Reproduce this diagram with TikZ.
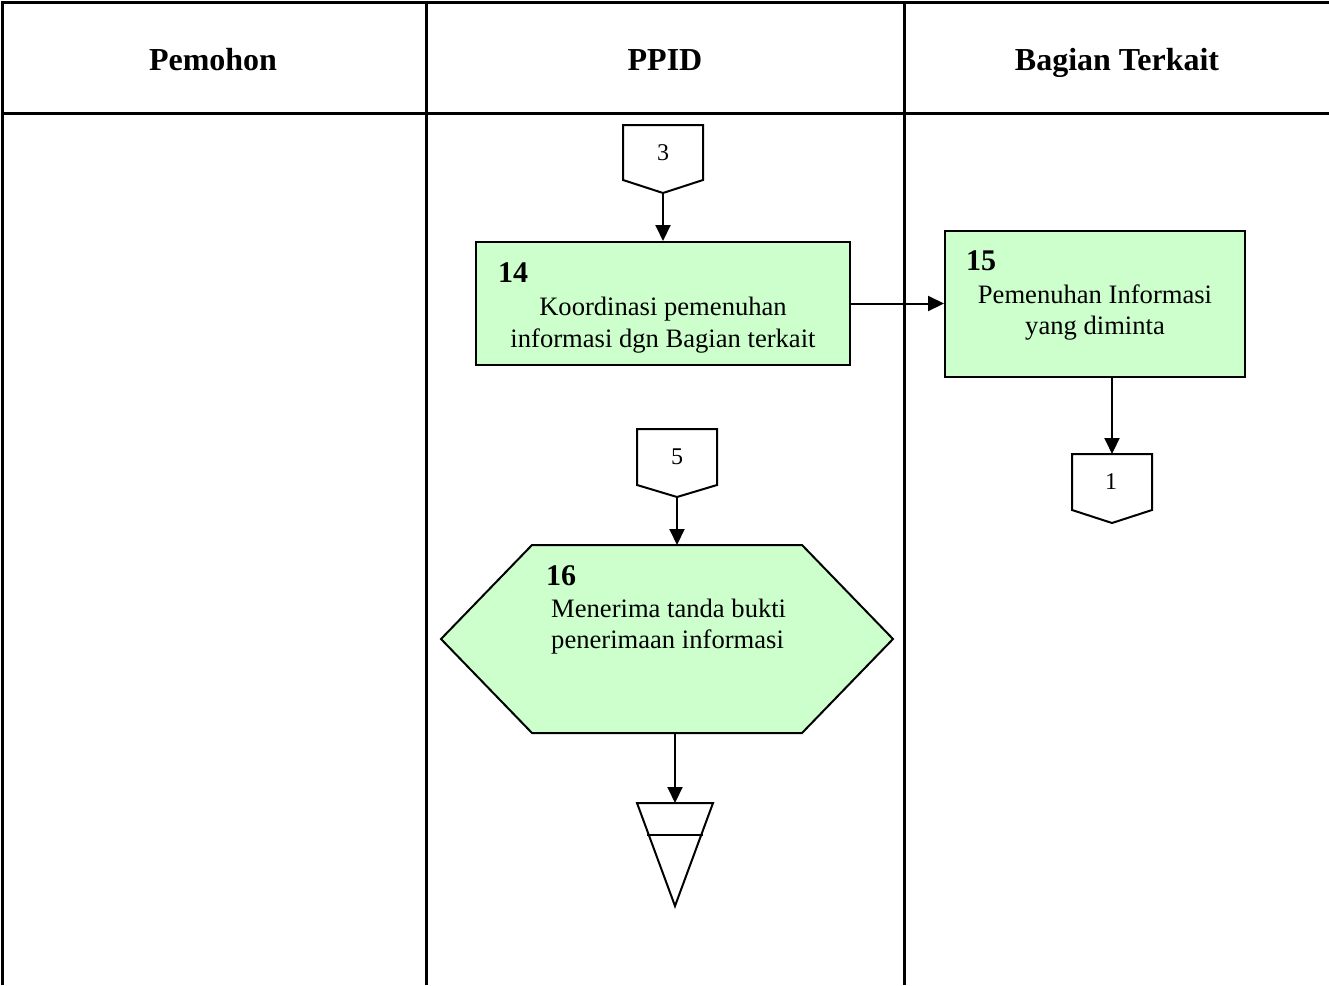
\documentclass[tikz,border=0pt]{standalone}
\usepackage{fontspec}
\setmainfont{Liberation Serif}
\usetikzlibrary{arrows.meta,calc}
\definecolor{boxgreen}{HTML}{CCFFCC}
\begin{document}
\begin{tikzpicture}[x=1pt,y=-1pt,
 gridline/.style={line width=3pt},
 boxline/.style={line width=2pt},
 flow/.style={line width=2pt,-{Triangle[length=16pt,width=15pt]}},
 hdr/.style={font=\fontsize{32}{38}\selectfont\bfseries, anchor=base, inner sep=0},
 num/.style={font=\fontsize{30}{36}\selectfont\bfseries, anchor=base west, inner sep=0},
 body/.style={font=\fontsize{26.6}{31}\selectfont, anchor=base, inner sep=0},
 bodyl/.style={font=\fontsize{26.6}{31}\selectfont, anchor=base west, inner sep=0},
 ctext/.style={font=\fontsize{24}{28}\selectfont, inner sep=0},
 procbox/.style={draw, fill=boxgreen, line width=2pt, inner sep=0},
 frame/.style={inner sep=0, outer sep=0}]
\useasboundingbox (0,0) rectangle (1329,985);

% table grid
\draw[gridline] (2,985) -- (2,2) -- (1329,2);
\draw[gridline] (2,113) -- (1329,113);
\draw[gridline] (426,2) -- (426,985);
\draw[gridline] (904,2) -- (904,985);

% headers
\node[hdr] (h1) at (213,70) {Pemohon};
\node[hdr] (h2) at (665,70) {PPID};
\node[hdr] (h3) at (1117,70) {Bagian Terkait};

% connector 3
\node[frame, minimum width=80, minimum height=68] (c3) at (663,159) {};
\draw[boxline] (c3.north west) -- (c3.north east) -- ($(c3.south east)+(0,-13)$) -- (c3.south) -- ($(c3.south west)+(0,-13)$) -- cycle;
\node[ctext] (c3t) at (663,153) {3};

% box 14
\node[procbox, minimum width=374, minimum height=123] (b14) at (663,303.5) {};
\node[num] (n14) at (498,282) {14};
\node[body] (t14a) at (663,315) {Koordinasi pemenuhan};
\node[body] (t14b) at (663,347) {informasi dgn Bagian terkait};

% box 15
\node[procbox, minimum width=300, minimum height=146] (b15) at (1095,304) {};
\node[num] (n15) at (966,270) {15};
\node[body] (t15a) at (1095,303) {Pemenuhan Informasi};
\node[body] (t15b) at (1095,334) {yang diminta};

% connector 1
\node[frame, minimum width=80, minimum height=69] (c1) at (1112,488.5) {};
\draw[boxline] (c1.north west) -- (c1.north east) -- ($(c1.south east)+(0,-13)$) -- (c1.south) -- ($(c1.south west)+(0,-13)$) -- cycle;
\node[ctext] (c1t) at (1111,482) {1};

% connector 5
\node[frame, minimum width=80, minimum height=68] (c5) at (677,463) {};
\draw[boxline] (c5.north west) -- (c5.north east) -- ($(c5.south east)+(0,-12)$) -- (c5.south) -- ($(c5.south west)+(0,-12)$) -- cycle;
\node[ctext] (c5t) at (677,457) {5};

% hexagon 16
\node[frame, minimum width=452, minimum height=188] (h16) at (667,639) {};
\draw[boxline, fill=boxgreen] (h16.west) -- ($(h16.north west)+(91,0)$) -- ($(h16.north east)+(-91,0)$) -- (h16.east) -- ($(h16.south east)+(-91,0)$) -- ($(h16.south west)+(91,0)$) -- cycle;
\node[num] (n16) at (546,585) {16};
\node[bodyl] (t16a) at (551,617) {Menerima tanda bukti};
\node[bodyl] (t16b) at (551,648) {penerimaan informasi};

% triangle (end / storage)
\node[frame, minimum width=76, minimum height=103] (tri) at (675,854.5) {};
\draw[boxline] (tri.north west) -- (tri.north east) -- (tri.south) -- cycle;
\draw[boxline] ($(tri.north west)+(10,32)$) -- ($(tri.north east)+(-10,32)$);

% flows
\draw[flow] (c3.south) -- (b14.north);
\draw[flow] (b14.east) -- (b14.east -| b15.west);
\draw[flow] (c1.north |- b15.south) -- (c1.north);
\draw[flow] (c5.south) -- (c5.south |- h16.north);
\draw[flow] (tri.north |- h16.south) -- (tri.north);
\end{tikzpicture}
\end{document}
